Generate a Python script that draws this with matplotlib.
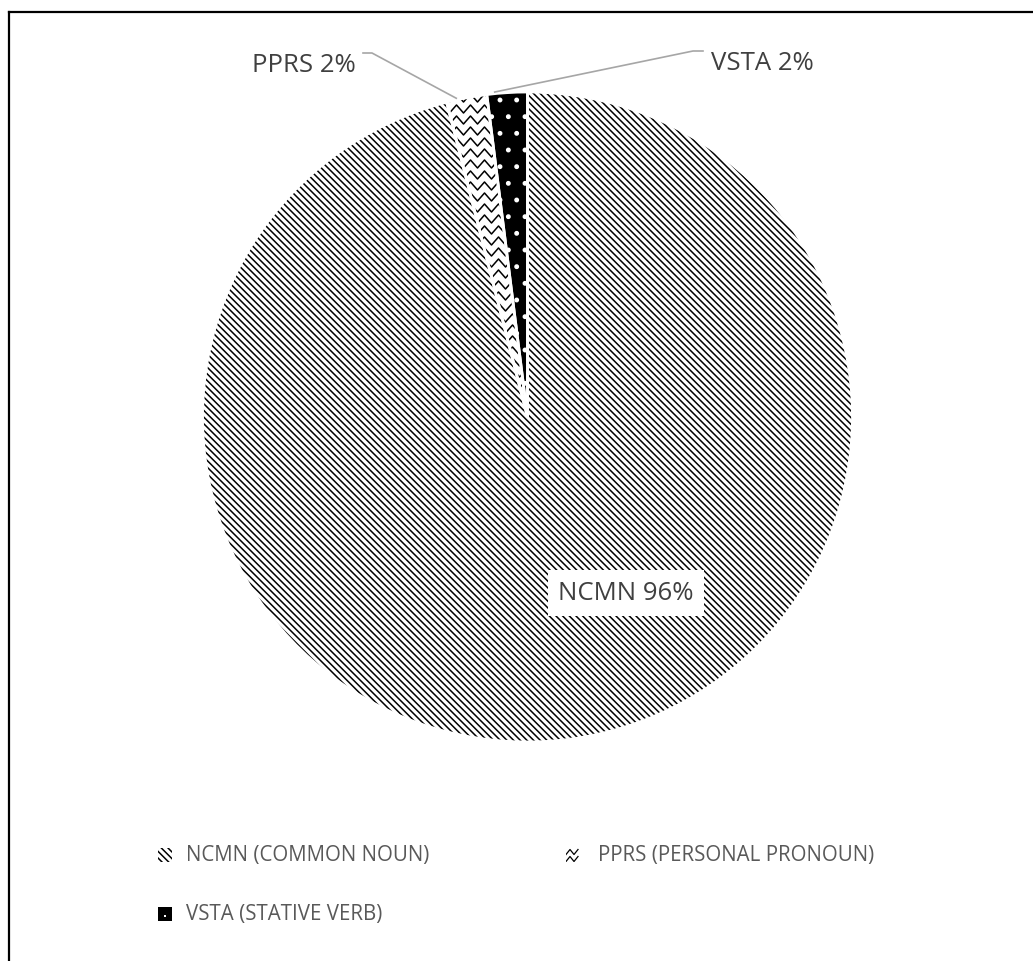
import numpy as np
import matplotlib
matplotlib.use("Agg")
import matplotlib.pyplot as plt
from matplotlib.patches import Rectangle
from matplotlib.lines import Line2D

plt.rcParams['font.family'] = ['Open Sans', 'DejaVu Sans']
plt.rcParams['hatch.linewidth'] = 1.1

# Part-of-speech shares
codes = ["NCMN", "PPRS", "VSTA"]
names = ["NCMN (COMMON NOUN)", "PPRS (PERSONAL PRONOUN)", "VSTA (STATIVE VERB)"]
shares = [96, 2, 2]

W, H = 1033, 962
fig = plt.figure(figsize=(W / 100, H / 100), dpi=100)
ax = fig.add_axes([0, 0, 1, 1])

cx, cy, R = 527.5, H - 418, 325
dense = "\\" * 5

def zigzag_lines(x0, x1, y0, y1, row_gap=10.0, step=6.0, amp=3.5):
    segs = []
    for yb in np.arange(y0, y1, row_gap):
        xs = np.arange(x0, x1, step)
        ys = yb + amp * ((np.arange(len(xs)) % 2) * 2 - 1)
        segs.append((xs, ys))
    return segs

wedges, _ = ax.pie(shares, startangle=90, counterclock=False,
                   center=(cx, cy), radius=R,
                   wedgeprops=dict(linewidth=0))

# fills and textures
wedges[0].set_facecolor("white")
wedges[0].set_edgecolor("black")
wedges[0].set_hatch(dense)
wedges[1].set_facecolor("white")
wedges[1].set_edgecolor("white")
wedges[2].set_facecolor("black")
wedges[2].set_edgecolor("white")
wedges[2].set_hatch(".")

# zigzag texture for the pronoun slice
for xs, ys in zigzag_lines(cx - 120, cx + 10, cy, cy + R + 10, row_gap=11, step=7, amp=4):
    ln, = ax.plot(xs, ys, color="black", lw=1.1, zorder=3)
    ln.set_clip_path(wedges[1])

# white borders between slices
outline, _ = ax.pie(shares, startangle=90, counterclock=False,
                    center=(cx, cy), radius=R,
                    wedgeprops=dict(facecolor="none", edgecolor="white", linewidth=2.0))
for w in outline:
    w.set_zorder(4)

ax.set_xlim(0, W)
ax.set_ylim(0, H)
ax.set_aspect("auto")
ax.axis("off")

label_color = "#404040"
lead_color = "#A6A6A6"
fs_lab = 18.5

def edge_point(w, frac, r=1.005):
    th = np.deg2rad(w.theta1 + frac * (w.theta2 - w.theta1))
    return cx + r * R * np.cos(th), cy + r * R * np.sin(th)

# PPRS label with leader
px, py = edge_point(wedges[1], 0.75)
ax.plot([px, 372, 363], [py, H - 54, H - 54], color=lead_color, lw=1.2, zorder=5)
ax.text(356, H - 65, f"{codes[1]} {shares[1]}%", ha="right", va="center",
        fontsize=fs_lab, color=label_color, zorder=6)

# VSTA label with leader
vx, vy = edge_point(wedges[2], 0.8)
ax.plot([vx, 693, 703], [vy, H - 52, H - 52], color=lead_color, lw=1.2, zorder=5)
ax.text(711, H - 63, f"{codes[2]} {shares[2]}%", ha="left", va="center",
        fontsize=fs_lab, color=label_color, zorder=6)

# NCMN label in a white box
ax.text(626, H - 594, f"{codes[0]} {shares[0]}%", ha="center", va="center",
        fontsize=fs_lab, color=label_color, zorder=6,
        bbox=dict(boxstyle="square,pad=0.4", facecolor="white", edgecolor="none"))

# legend
leg_color = "#595959"
fs_leg = 14.8
items = [(165, 856, 186), (573, 856, 598), (165, 915, 186)]
for i, (mx, my, tx) in enumerate(items):
    y = H - my
    s = 14
    if i == 0:
        ax.add_patch(Rectangle((mx - s / 2, y - s / 2), s, s, facecolor="white",
                               edgecolor="black", hatch=dense, linewidth=0))
    elif i == 1:
        box = Rectangle((mx - s / 2, y - s / 2), s, s, facecolor="white",
                        edgecolor="none", linewidth=0)
        ax.add_patch(box)
        for xs, ys in zigzag_lines(mx - s / 2, mx + s / 2 + 1, y - s / 2 + 3, y + s / 2,
                                   row_gap=7, step=4, amp=2.5):
            ln, = ax.plot(xs, ys, color="black", lw=0.9)
            ln.set_clip_path(box)
    else:
        ax.add_patch(Rectangle((mx - s / 2, y - s / 2), s, s, facecolor="black",
                               edgecolor="none", linewidth=0))
        ax.plot([mx], [y - 2], marker="s", ms=1.5, color="white", mew=0)
    ax.text(tx, y, names[i], ha="left", va="center", fontsize=fs_leg,
            color=leg_color)

# chart frame (top and left edges)
ax.add_line(Line2D([9, W], [H - 13, H - 13], color="black", lw=1.6))
ax.add_line(Line2D([9, 9], [0, H - 13], color="black", lw=1.6))

fig.savefig("out.png", dpi=100)
